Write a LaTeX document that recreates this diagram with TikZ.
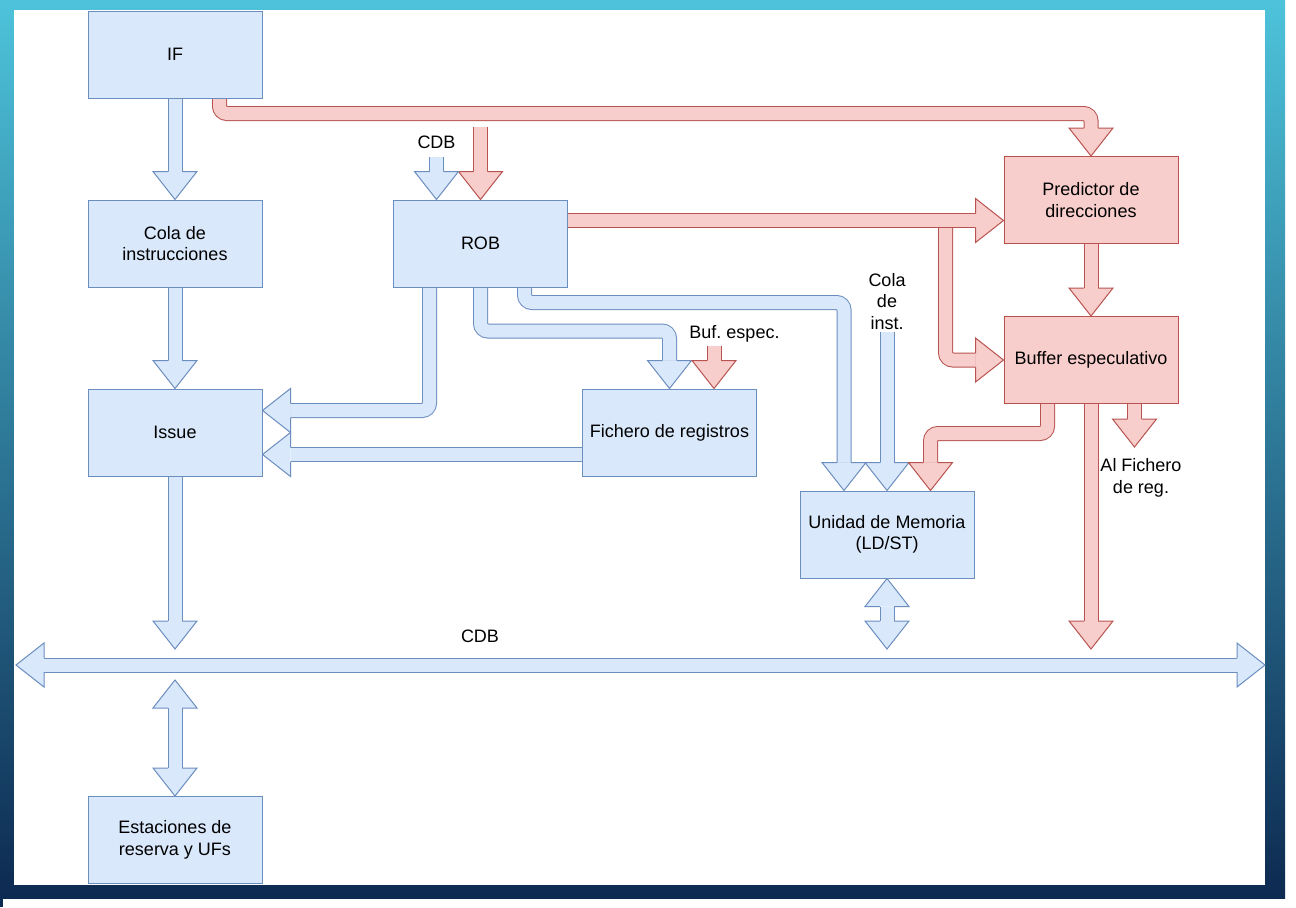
\documentclass[tikz,border=0pt]{standalone}
\usepackage{fontspec}
\setmainfont{Liberation Sans}
\usetikzlibrary{calc}
\frenchspacing
\definecolor{bfill}{HTML}{DAE8FC}
\definecolor{bline}{HTML}{6C8EBF}
\definecolor{rfill}{HTML}{F8CECC}
\definecolor{rline}{HTML}{B85450}
\definecolor{bgtop}{HTML}{4DC3DA}
\definecolor{bgbot}{HTML}{0D2A52}
\pgfdeclarelayer{back}
\pgfdeclarelayer{arr}
\pgfsetlayers{back,arr,main}
\newcommand\dfont{\fontsize{13.5}{16.2}\selectfont\frenchspacing}
\tikzset{
  bbox/.style={draw=bline, fill=bfill, line width=0.75pt, minimum width=130.5pt,
    minimum height=65.25pt, inner sep=0pt, align=center, font=\dfont},
  rbox/.style={bbox, draw=rline, fill=rfill},
  lbl/.style={inner sep=0pt, align=center, font=\dfont},
  bbody/.style={draw=bline, double=bfill, double distance=9.75pt, line width=0.75pt, rounded corners=5.6pt},
  rbody/.style={bbody, draw=rline, double=rfill},
  bhf/.style={fill=bfill}, bhd/.style={draw=bline, line width=0.75pt},
  rhf/.style={fill=rfill}, rhd/.style={draw=rline, line width=0.75pt}
}
% arrow heads: #1 tip, #2 colour prefix (b or r)
\newcommand\hS[2]{\coordinate (T) at (#1);
  \fill[#2hf] (T) -- ++(-22,-28) -- ++(44,0) -- cycle;
  \draw[#2hd] ($(T)+(-7,-28)$) -- ++(-15,0) -- (T) -- ++(22,-28) -- ++(-15,0);}
\newcommand\hN[2]{\coordinate (T) at (#1);
  \fill[#2hf] (T) -- ++(-22,28) -- ++(44,0) -- cycle;
  \draw[#2hd] ($(T)+(-7,28)$) -- ++(-15,0) -- (T) -- ++(22,28) -- ++(-15,0);}
\newcommand\hE[2]{\coordinate (T) at (#1);
  \fill[#2hf] (T) -- ++(-28,-22) -- ++(0,44) -- cycle;
  \draw[#2hd] ($(T)+(-28,-7)$) -- ++(0,-15) -- (T) -- ++(-28,22) -- ++(0,-15);}
\newcommand\hW[2]{\coordinate (T) at (#1);
  \fill[#2hf] (T) -- ++(28,-22) -- ++(0,44) -- cycle;
  \draw[#2hd] ($(T)+(28,-7)$) -- ++(0,-15) -- (T) -- ++(28,22) -- ++(0,-15);}
\begin{document}
\begin{tikzpicture}[x=0.75pt, y=-0.75pt]
\useasboundingbox (0,0) rectangle (1296,907);
\begin{pgfonlayer}{back}
  \fill[white] (0,0) rectangle (1296,907);
  \shade[top color=bgtop, bottom color=bgbot] (0,0) rectangle (1285,898);
  \fill[bgbot] (0,898) rectangle (3,907);
  \fill[white] (14,10) rectangle (1265,885);
\end{pgfonlayer}

% boxes
\node[bbox] (IF)   at (175,54.5)   {IF};
\node[bbox] (Cola) at (175,243.5)  {Cola de\\instrucciones};
\node[bbox] (Issue) at (175,432.5) {Issue};
\node[bbox] (Est)  at (175,840)    {Estaciones de\\reserva y UFs};
\node[bbox] (ROB)  at (480.5,243.5) {ROB};
\node[bbox] (Fich) at (669.5,432.5) {Fichero de registros};
\node[rbox] (Pred) at (1091,200)   {Predictor de\\direcciones};
\node[rbox] (Buf)  at (1091,360)   {Buffer especulativo};
\node[bbox] (Unid) at (887,534.5)  {Unidad de Memoria\\(LD/ST)};

% labels
\node[lbl, anchor=base] (cdbl) at (436.5,148) {CDB};
\node[lbl, anchor=base] (bufl) at (734.5,338) {Buf. espec.};
\node[lbl] (cinst) at (887,301.5) {Cola\\de\\inst.};
\node[lbl] (alf) at (1141,478) {Al Fichero\\de reg.};
\node[lbl, anchor=base] (busl) at (480,642) {CDB};

\coordinate (busL) at (16,665);
\coordinate (busR) at (1265,665);

\begin{pgfonlayer}{arr}
% IF -> Cola
\draw[bbody] (IF.south) -- ($(Cola.north)+(0,-28)$); \hS{Cola.north}{b}
% Cola -> Issue
\draw[bbody] (Cola.south) -- ($(Issue.north)+(0,-28)$); \hS{Issue.north}{b}
% Issue -> CDB bus
\coordinate (issT) at ($(Issue.south |- busL)+(0,-16)$);
\draw[bbody] (Issue.south) -- ($(issT)+(0,-28)$); \hS{issT}{b}
% Est <-> bus
\coordinate (estT) at ($(Est.north |- busL)+(0,15)$);
\draw[bbody] ($(estT)+(0,28)$) -- ($(Est.north)+(0,-28)$); \hN{estT}{b} \hS{Est.north}{b}
% bus
\draw[bbody] ($(busL)+(28,0)$) -- ($(busR)+(-28,0)$); \hW{busL}{b} \hE{busR}{b}
% Unid <-> bus
\coordinate (uT) at ($(Unid.south |- busL)+(0,-16)$);
\draw[bbody] ($(Unid.south)+(0,28)$) -- ($(uT)+(0,-28)$); \hN{Unid.south}{b} \hS{uT}{b}
% ROB -> Buf (branch)
\coordinate (rp) at ($(ROB.north east)+(0,21)$);
\coordinate (br) at (945.5,221);
\draw[rbody] (br) |- ($(Buf.west)+(-28,0)$); \hE{Buf.west}{r}
% ROB -> Pred
\draw[rbody] (rp) -- ($(Pred.west |- rp)+(-28,0)$); \hE{Pred.west |- rp}{r}
% IF -> Pred
\coordinate (ifr) at ($(IF.south)+(44.5,0)$);
\draw[rbody] (ifr) -- ++(0,15) -| ($(Pred.north)+(0,-28)$); \hS{Pred.north}{r}
% red into ROB
\coordinate (rin) at (480.5,127);
\draw[rbody] (rin) -- ($(ROB.north)+(0,-28)$); \hS{ROB.north}{r}
% CDB into ROB
\coordinate (cdbT) at ($(ROB.north)+(-44,0)$);
\draw[bbody] ($(cdbT)+(0,-43)$) -- ($(cdbT)+(0,-28)$); \hS{cdbT}{b}
% ROB -> Issue
\coordinate (o1) at ($(ROB.south)+(-51,0)$);
\coordinate (iT1) at ($(Issue.east)+(0,-22)$);
\draw[bbody] (o1) |- ($(iT1)+(28,0)$); \hW{iT1}{b}
% ROB -> Fich
\draw[bbody] (ROB.south) -- ++(0,43.5) -| ($(Fich.north)+(0,-28)$); \hS{Fich.north}{b}
% ROB -> Unid
\coordinate (o3) at ($(ROB.south)+(44,0)$);
\coordinate (uT1) at ($(Unid.north)+(-43,0)$);
\draw[bbody] (o3) -- ++(0,15) -| ($(uT1)+(0,-28)$); \hS{uT1}{b}
% Cola de inst -> Unid
\draw[bbody] ($(Unid.north)+(0,-159)$) -- ($(Unid.north)+(0,-28)$); \hS{Unid.north}{b}
% Buf -> Unid
\coordinate (bo1) at ($(Buf.south)+(-43.5,0)$);
\coordinate (uT2) at ($(Unid.north)+(43.5,0)$);
\draw[rbody] (bo1) -- ++(0,29.5) -| ($(uT2)+(0,-28)$); \hS{uT2}{r}
% Buf -> Al Fichero
\coordinate (bo2) at ($(Buf.south)+(43.5,0)$);
\draw[rbody] (bo2) -- ++(0,15); \hS{$(bo2)+(0,43)$}{r}
% Buf -> bus
\coordinate (bT) at ($(Buf.south |- busL)+(0,-16)$);
\draw[rbody] (Buf.south) -- ($(bT)+(0,-28)$); \hS{bT}{r}
% Fich -> Issue
\coordinate (iT2) at ($(Issue.east)+(0,22)$);
\draw[bbody] (Fich.west |- iT2) -- ($(iT2)+(28,0)$); \hW{iT2}{b}
% Buf. espec. -> Fich
\coordinate (fT) at ($(Fich.north)+(44.5,0)$);
\draw[rbody] ($(fT)+(0,-43)$) -- ($(fT)+(0,-28)$); \hS{fT}{r}
% Pred -> Buf
\draw[rbody] (Pred.south) -- ($(Buf.north)+(0,-28)$); \hS{Buf.north}{r}
\end{pgfonlayer}
\end{tikzpicture}
\end{document}
